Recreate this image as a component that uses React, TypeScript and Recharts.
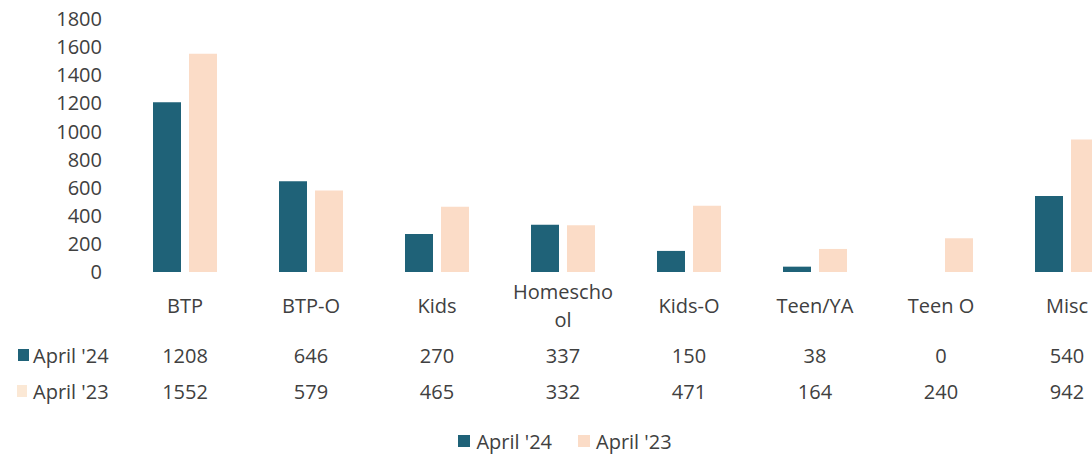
import React from "react";
import { BarChart, Bar, XAxis, YAxis, Legend } from "recharts";

const categories = ["BTP", "BTP-O", "Kids", "Homeschool", "Kids-O", "Teen/YA", "Teen O", "Misc"];
const april24 = [1208, 646, 270, 337, 150, 38, 0, 540];
const april23 = [1552, 579, 465, 332, 471, 164, 240, 942];
const yTicks = [0, 200, 400, 600, 800, 1000, 1200, 1400, 1600, 1800];
const seriesNames = ["April '24", "April '23"];

const COLOR24 = "#1f6278";
const COLOR23 = "#fbdcc7";
const TEXT = "#404040";
const FONT = "'Open Sans', 'Liberation Sans', sans-serif";

const data = categories.map((c, i) => ({ category: c, a24: april24[i], a23: april23[i] }));

function wrapLabel(s: string, max: number): string[] {
  if (s.length <= max) return [s];
  const out: string[] = [];
  for (let i = 0; i < s.length; i += max) out.push(s.slice(i, i + max));
  return out;
}

const TableTick = (props: any) => {
  const { x, y, payload, index } = props;
  const lines = wrapLabel(String(payload.value), 8);
  const lineH = 28;
  const baseY = y + 33 - ((lines.length - 1) * lineH) / 2;
  const common = { fill: TEXT, fontSize: 20, fontFamily: FONT, textAnchor: "middle" as const, dominantBaseline: "central" as const };
  return (
    <g>
      {lines.map((l, k) => (
        <text key={k} x={x} y={baseY + k * lineH} {...common}>{l}</text>
      ))}
      <text x={x} y={y + 83} {...common}>{april24[index]}</text>
      <text x={x} y={y + 119} {...common}>{april23[index]}</text>
      {index === 0 && (
        <g>
          <rect x={18} y={y + 77} width={11} height={12} fill={COLOR24} />
          <text x={33} y={y + 83} fill={TEXT} fontSize={20} fontFamily={FONT} dominantBaseline="central">{seriesNames[0]}</text>
          <rect x={17} y={y + 113} width={10} height={12} fill="#fbe8d5" />
          <text x={33} y={y + 119} fill={TEXT} fontSize={20} fontFamily={FONT} dominantBaseline="central">{seriesNames[1]}</text>
        </g>
      )}
    </g>
  );
};

const LegendContent = () => (
  <div style={{ height: 28, display: "flex", justifyContent: "center", alignItems: "center", fontFamily: FONT, fontSize: 20, color: TEXT, margin: 0 }}>
    <span style={{ display: "inline-block", width: 12, height: 12, background: COLOR24, marginRight: 6 }} />
    <span style={{ marginRight: 26 }}>{seriesNames[0]}</span>
    <span style={{ display: "inline-block", width: 12, height: 12, background: COLOR23, marginRight: 6 }} />
    <span>{seriesNames[1]}</span>
  </div>
);

export default function App() {
  return (
    <div style={{ position: "absolute", left: 0, top: 0, width: 1092, height: 455, overflow: "hidden", background: "#fff", fontFamily: FONT }}>
      <BarChart width={1140} height={455} data={data} margin={{ top: 19, right: 10, bottom: 0, left: 0 }} barSize={28} barGap={8}>
        <YAxis
          width={122}
          domain={[0, 1800]}
          ticks={yTicks}
          interval={0}
          axisLine={false}
          tickLine={false}
          tickSize={0}
          tickMargin={20}
          tick={{ fill: TEXT, fontSize: 20, fontFamily: FONT }}
        />
        <XAxis
          dataKey="category"
          height={155}
          interval={0}
          axisLine={false}
          tickLine={false}
          tickSize={0}
          tickMargin={0}
          tick={<TableTick />}
        />
        <Legend verticalAlign="bottom" content={<LegendContent />} />
        <Bar dataKey="a24" name={seriesNames[0]} fill={COLOR24} isAnimationActive={false} />
        <Bar dataKey="a23" name={seriesNames[1]} fill={COLOR23} isAnimationActive={false} />
      </BarChart>
    </div>
  );
}
